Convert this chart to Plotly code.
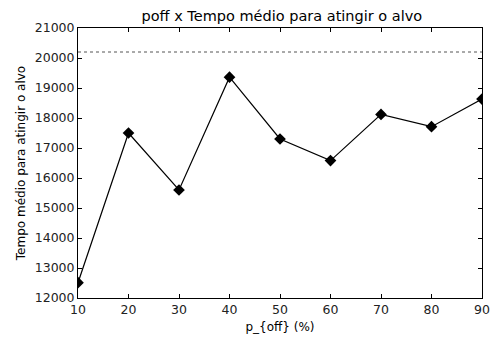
import plotly.graph_objects as go

p_off = [10, 20, 30, 40, 50, 60, 70, 80, 90]
tempo_medio = [12510, 17500, 15600, 19360, 17300, 16580, 18120, 17710, 18630]
limite = 20200
x_ticks = [10, 20, 30, 40, 50, 60, 70, 80, 90]
y_ticks = [12000, 13000, 14000, 15000, 16000, 17000, 18000, 19000, 20000, 21000]

fig = go.Figure()
fig.add_trace(go.Scatter(
    x=p_off, y=tempo_medio, mode="lines+markers",
    line=dict(color="black", width=1.2),
    marker=dict(symbol="diamond", size=9, color="black"),
    cliponaxis=True, showlegend=False,
))
fig.add_shape(type="line", xref="paper", yref="y", x0=0, x1=1, y0=limite, y1=limite,
              line=dict(color="#555555", width=1, dash="dot"))

font = dict(family="DejaVu Sans", size=12, color="black")
tick_font = dict(family="DejaVu Sans", size=12.5, color="#222222")
fig.update_layout(
    width=491, height=341,
    margin=dict(l=78, r=9, t=28, b=43, autoexpand=False),
    paper_bgcolor="white", plot_bgcolor="white",
    font=font,
    title=dict(text="poff x Tempo médio para atingir o alvo", x=0.574, xanchor="center",
               y=1 - 16/341, yanchor="middle", font=dict(family="DejaVu Sans", size=14.5, color="black")),
)
fig.update_xaxes(
    range=[10, 90], tickvals=x_ticks, ticktext=[str(v) for v in x_ticks],
    ticks="inside", ticklen=4, tickcolor="black", automargin=False,
    showline=True, linecolor="black", linewidth=1, mirror="ticks", showgrid=False, zeroline=False,
    title=dict(text="p_{off} (%)", font=font, standoff=6), tickfont=tick_font,
)
fig.update_yaxes(
    range=[12000, 21000], tickvals=y_ticks, ticktext=[str(v) for v in y_ticks],
    ticks="inside", ticklen=4, tickcolor="black", automargin=False,
    showline=True, linecolor="black", linewidth=1, mirror="ticks", showgrid=False, zeroline=False,
    title=dict(text="Tempo médio para atingir o alvo", font=font, standoff=6), tickfont=tick_font,
)
fig.write_html("out.html", config={"displayModeBar": False},
               post_script="document.body.style.margin='0px';document.body.style.overflow='hidden';")
